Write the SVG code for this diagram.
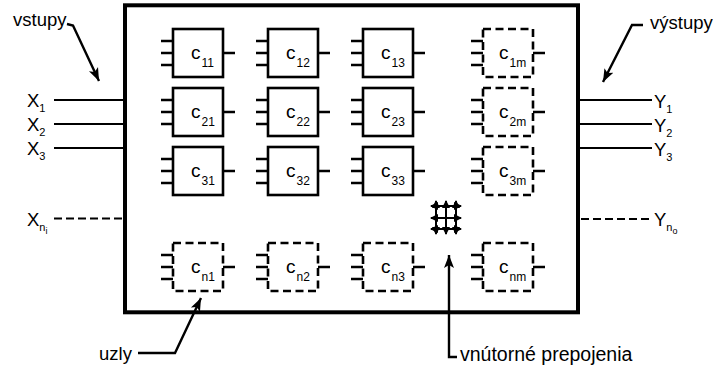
<svg xmlns="http://www.w3.org/2000/svg" width="713" height="367" viewBox="0 0 713 367">
<style>
  text { font-family: "Liberation Sans", Arial, sans-serif; fill: #000; }
  .lbl { font-size: 18.5px; }
  .big { font-size: 18.5px; }
  .sub { font-size: 11px; }
  .ssub { font-size: 9px; }
  .c { font-size: 19px; }
  .cs { font-size: 12px; }
  .frame { fill: #fff; stroke: #000; stroke-width: 4; }
  .box { fill: #fff; stroke: #000; stroke-width: 2.6; }
  .dbox { fill: #fff; stroke: #000; stroke-width: 2.6; stroke-dasharray: 8 4.5; }
  .stub { stroke: #000; stroke-width: 2.6; fill: none; }
  .io { stroke: #000; stroke-width: 2; fill: none; }
  .dio { stroke: #000; stroke-width: 2; fill: none; stroke-dasharray: 8 4; }
  .ptr { stroke: #000; stroke-width: 2.4; fill: none; marker-end: url(#ah); }
  .grid { stroke: #000; stroke-width: 2; fill: none; marker-start: url(#sa); marker-end: url(#sa); }
</style>
<defs>
  <marker id="ah" markerUnits="userSpaceOnUse" markerWidth="14" markerHeight="12" viewBox="0 0 14 12" refX="13" refY="6" orient="auto">
    <path d="M0,1 L13,6 L0,11 L3,6 Z" fill="#000"/>
  </marker>
  <marker id="sa" markerUnits="userSpaceOnUse" markerWidth="8" markerHeight="8" viewBox="0 0 8 8" refX="7" refY="4" orient="auto-start-reverse">
    <path d="M0,0 L8,4 L0,8 Z" fill="#000"/>
  </marker>
</defs>

<rect id="frame" class="frame" x="125" y="5.3" width="453" height="307"/>

<g id="connectors">
  <line class="io" x1="54" y1="100" x2="125" y2="100"/>
  <line class="io" x1="54" y1="124" x2="125" y2="124"/>
  <line class="io" x1="54" y1="148" x2="125" y2="148"/>
  <line class="dio" x1="54" y1="218.5" x2="122" y2="218.5"/>
  <line class="io" x1="578" y1="100" x2="652" y2="100"/>
  <line class="io" x1="578" y1="124" x2="652" y2="124"/>
  <line class="io" x1="578" y1="148" x2="652" y2="148"/>
  <line class="dio" x1="581" y1="219" x2="652" y2="219"/>
  <path class="ptr" d="M67,24 L73,25.5 L99,81"/>
  <path class="ptr" d="M643,25 L632,25 L603,82"/>
  <path class="ptr" d="M138,353 L175,353 L201,298"/>
  <path class="ptr" d="M457,357 L449,357 L449,255"/>
</g>

<g id="io-labels">
  <text class="lbl" x="13" y="26">vstupy</text>
  <text class="lbl" x="650" y="29">výstupy</text>
  <text class="lbl" x="99" y="360">uzly</text>
  <text class="lbl" x="460" y="361" style="font-size:19.5px">vnútorné prepojenia</text>
  <text class="big" x="27" y="107">X<tspan class="sub" dy="5">1</tspan></text>
  <text class="big" x="27" y="131">X<tspan class="sub" dy="5">2</tspan></text>
  <text class="big" x="27" y="155">X<tspan class="sub" dy="5">3</tspan></text>
  <text class="big" x="27" y="225.5">X<tspan class="sub" dy="5">n</tspan><tspan class="ssub" dy="3">i</tspan></text>
  <text class="big" x="654" y="108">Y<tspan class="sub" dy="5">1</tspan></text>
  <text class="big" x="654" y="132">Y<tspan class="sub" dy="5">2</tspan></text>
  <text class="big" x="654" y="156">Y<tspan class="sub" dy="5">3</tspan></text>
  <text class="big" x="654" y="226">Y<tspan class="sub" dy="5">n</tspan><tspan class="ssub" dy="3">o</tspan></text>
</g>

<g id="c11"><rect class="box" x="173" y="29" width="50" height="48"/><path class="stub" d="M161,41 H173 M161,53 H173 M161,65 H173 M223,53 H235"/><text class="c" x="191" y="58.5">c<tspan class="cs" dx="1" dy="8">11</tspan></text></g>
<g id="c12"><rect class="box" x="268" y="29" width="50" height="48"/><path class="stub" d="M256,41 H268 M256,53 H268 M256,65 H268 M318,53 H330"/><text class="c" x="286" y="58.5">c<tspan class="cs" dx="1" dy="8">12</tspan></text></g>
<g id="c13"><rect class="box" x="363" y="29" width="50" height="48"/><path class="stub" d="M351,41 H363 M351,53 H363 M351,65 H363 M413,53 H425"/><text class="c" x="381" y="58.5">c<tspan class="cs" dx="1" dy="8">13</tspan></text></g>
<g id="c1m"><rect class="dbox" x="483" y="29" width="50" height="48"/><path class="stub" d="M471,41 H483 M471,53 H483 M471,65 H483 M533,53 H545"/><text class="c" x="499" y="58.5">c<tspan class="cs" dx="1" dy="8">1m</tspan></text></g>

<g id="c21"><rect class="box" x="173" y="88" width="50" height="48"/><path class="stub" d="M161,100 H173 M161,112 H173 M161,124 H173 M223,112 H235"/><text class="c" x="191" y="117.5">c<tspan class="cs" dx="1" dy="8">21</tspan></text></g>
<g id="c22"><rect class="box" x="268" y="88" width="50" height="48"/><path class="stub" d="M256,100 H268 M256,112 H268 M256,124 H268 M318,112 H330"/><text class="c" x="286" y="117.5">c<tspan class="cs" dx="1" dy="8">22</tspan></text></g>
<g id="c23"><rect class="box" x="363" y="88" width="50" height="48"/><path class="stub" d="M351,100 H363 M351,112 H363 M351,124 H363 M413,112 H425"/><text class="c" x="381" y="117.5">c<tspan class="cs" dx="1" dy="8">23</tspan></text></g>
<g id="c2m"><rect class="dbox" x="483" y="88" width="50" height="48"/><path class="stub" d="M471,100 H483 M471,112 H483 M471,124 H483 M533,112 H545"/><text class="c" x="499" y="117.5">c<tspan class="cs" dx="1" dy="8">2m</tspan></text></g>

<g id="c31"><rect class="box" x="173" y="147" width="50" height="48"/><path class="stub" d="M161,159 H173 M161,171 H173 M161,183 H173 M223,171 H235"/><text class="c" x="191" y="176.5">c<tspan class="cs" dx="1" dy="8">31</tspan></text></g>
<g id="c32"><rect class="box" x="268" y="147" width="50" height="48"/><path class="stub" d="M256,159 H268 M256,171 H268 M256,183 H268 M318,171 H330"/><text class="c" x="286" y="176.5">c<tspan class="cs" dx="1" dy="8">32</tspan></text></g>
<g id="c33"><rect class="box" x="363" y="147" width="50" height="48"/><path class="stub" d="M351,159 H363 M351,171 H363 M351,183 H363 M413,171 H425"/><text class="c" x="381" y="176.5">c<tspan class="cs" dx="1" dy="8">33</tspan></text></g>
<g id="c3m"><rect class="dbox" x="483" y="147" width="50" height="48"/><path class="stub" d="M471,159 H483 M471,171 H483 M471,183 H483 M533,171 H545"/><text class="c" x="499" y="176.5">c<tspan class="cs" dx="1" dy="8">3m</tspan></text></g>

<g id="cn1"><rect class="dbox" x="173" y="243" width="50" height="48"/><path class="stub" d="M161,255 H173 M161,267 H173 M161,279 H173 M223,267 H235"/><text class="c" x="191" y="272.5">c<tspan class="cs" dx="1" dy="8">n1</tspan></text></g>
<g id="cn2"><rect class="dbox" x="268" y="243" width="50" height="48"/><path class="stub" d="M256,255 H268 M256,267 H268 M256,279 H268 M318,267 H330"/><text class="c" x="286" y="272.5">c<tspan class="cs" dx="1" dy="8">n2</tspan></text></g>
<g id="cn3"><rect class="dbox" x="363" y="243" width="50" height="48"/><path class="stub" d="M351,255 H363 M351,267 H363 M351,279 H363 M413,267 H425"/><text class="c" x="381" y="272.5">c<tspan class="cs" dx="1" dy="8">n3</tspan></text></g>
<g id="cnm"><rect class="dbox" x="483" y="243" width="50" height="48"/><path class="stub" d="M471,255 H483 M471,267 H483 M471,279 H483 M533,267 H545"/><text class="c" x="499" y="272.5">c<tspan class="cs" dx="1" dy="8">nm</tspan></text></g>

<g id="interconnect">
  <line class="grid" x1="436" y1="201" x2="436" y2="234"/>
  <line class="grid" x1="446" y1="201" x2="446" y2="234"/>
  <line class="grid" x1="456" y1="201" x2="456" y2="234"/>
  <line class="grid" x1="431" y1="206" x2="461" y2="206"/>
  <line class="grid" x1="431" y1="218" x2="461" y2="218"/>
  <line class="grid" x1="431" y1="229" x2="461" y2="229"/>
</g>
</svg>
